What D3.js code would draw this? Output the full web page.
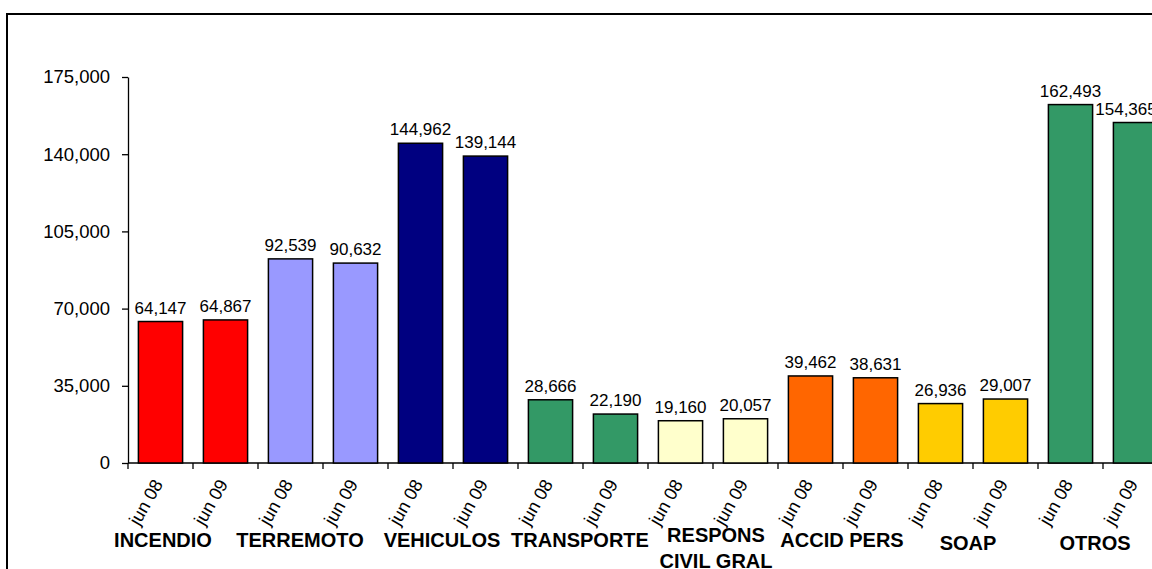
<!DOCTYPE html>
<html>
<head>
<meta charset="utf-8">
<script src="https://cdn.jsdelivr.net/npm/d3@7"></script>
<style>
  body { margin: 0; background: #fff; }
  text { font-family: "Liberation Sans", Arial, sans-serif; fill: #000; }
</style>
</head>
<body>
<svg id="chart" width="1152" height="569"></svg>
<script>
//-------------------------------------------------
// Data
//-------------------------------------------------
var categories = ["INCENDIO", "TERREMOTO", "VEHICULOS", "TRANSPORTE", "RESPONS\nCIVIL GRAL", "ACCID PERS", "SOAP", "OTROS"];
var periods = ["jun 08", "jun 09"];
var values = [64147, 64867, 92539, 90632, 144962, 139144, 28666, 22190,
              19160, 20057, 39462, 38631, 26936, 29007, 162493, 154365];
var catColors = ["#FF0000", "#9999FF", "#000080", "#339966", "#FFFFCC", "#FF6600", "#FFCC00", "#339966"];
var yTicks = [0, 35000, 70000, 105000, 140000, 175000];
// hand placed label nudges (px) like in the original sheet
var labelNudge = [-30, -23, -11, -3, 3, -1, -5, -8];
var labelDrop = [0, 0, 0, 0, -5, 0, 3, 3];
//-------------------------------------------------

var svg = d3.select("#chart");
var plotLeft = 128, step = 65, plotBase = 463, plotTop = 77;

// outer frame (runs off the right and bottom edge)
svg.append("rect")
  .attr("x", 7).attr("y", 14)
  .attr("width", 1300).attr("height", 700)
  .attr("fill", "#fff")
  .attr("stroke", "#000")
  .attr("stroke-width", 2);

var bars = values.map(function(v, i) {
  return { i: i, value: v, cat: Math.floor(i / 2), period: periods[i % 2] };
});

var x = d3.scaleBand()
  .domain(d3.range(values.length))
  .range([plotLeft, plotLeft + step * values.length])
  .paddingInner(0.32)
  .paddingOuter(0.16);

var y = d3.scaleLinear().domain([0, 175000]).range([plotBase, plotTop]);

// y axis
var yAxis = svg.append("g")
  .attr("transform", "translate(" + plotLeft + ",0)")
  .call(d3.axisLeft(y).tickValues(yTicks).tickSize(6).tickSizeOuter(0).tickPadding(12).tickFormat(d3.format(",")));
yAxis.select(".domain").attr("stroke", "#000").attr("stroke-width", 1.3);
yAxis.selectAll(".tick line").attr("stroke", "#000").attr("stroke-width", 1.3);
yAxis.selectAll(".tick text")
  .style("font-size", "18.5px")
  .style("font-family", "'Liberation Sans', Arial, sans-serif")
  .attr("fill", "#000");

// x axis line + tick marks between bars
svg.append("line")
  .attr("x1", plotLeft).attr("x2", plotLeft + step * values.length)
  .attr("y1", plotBase).attr("y2", plotBase)
  .attr("stroke", "#000").attr("stroke-width", 1.3);

svg.selectAll(".xtick")
  .data(d3.range(values.length + 1))
  .enter().append("line")
  .attr("class", "xtick")
  .attr("x1", function(d) { return plotLeft + step * d; })
  .attr("x2", function(d) { return plotLeft + step * d; })
  .attr("y1", plotBase).attr("y2", plotBase + 6)
  .attr("stroke", "#000").attr("stroke-width", 1.3);

// bars
svg.selectAll(".bar")
  .data(bars)
  .enter().append("rect")
  .attr("class", "bar")
  .attr("x", function(d) { return x(d.i); })
  .attr("width", x.bandwidth())
  .attr("y", function(d) { return y(d.value); })
  .attr("height", function(d) { return plotBase - y(d.value); })
  .attr("fill", function(d) { return catColors[d.cat]; })
  .attr("stroke", "#000")
  .attr("stroke-width", 1.5);

// value labels
svg.selectAll(".val")
  .data(bars)
  .enter().append("text")
  .attr("class", "val")
  .attr("x", function(d) { return Math.min(x(d.i) + x.bandwidth() / 2, 1154 - 28); })
  .attr("y", function(d) { return y(d.value) - 8; })
  .attr("text-anchor", "middle")
  .style("font-size", "17px")
  .text(function(d) { return d3.format(",")(d.value); });

// rotated period labels
svg.selectAll(".per")
  .data(bars)
  .enter().append("text")
  .attr("class", "per")
  .attr("transform", function(d) {
    return "translate(" + (x(d.i) + x.bandwidth() / 2 + 3) + "," + (plotBase + 21) + ") rotate(-60)";
  })
  .attr("text-anchor", "end")
  .style("font-size", "18px")
  .text(function(d) { return d.period; });

// category labels
var cat = svg.selectAll(".cat")
  .data(categories)
  .enter().append("text")
  .attr("class", "cat")
  .attr("text-anchor", "middle")
  .style("font-size", "20px")
  .style("font-weight", "bold")
  .attr("transform", function(d, i) {
    return "translate(" + (plotLeft + step * (2 * i + 1) + labelNudge[i]) + "," + (547 + labelDrop[i]) + ")";
  });

cat.selectAll("tspan")
  .data(function(d) { return d.split("\n"); })
  .enter().append("tspan")
  .attr("x", 0)
  .attr("dy", function(d, j) { return j === 0 ? 0 : 26; })
  .text(function(d) { return d; });
</script>
</body>
</html>
